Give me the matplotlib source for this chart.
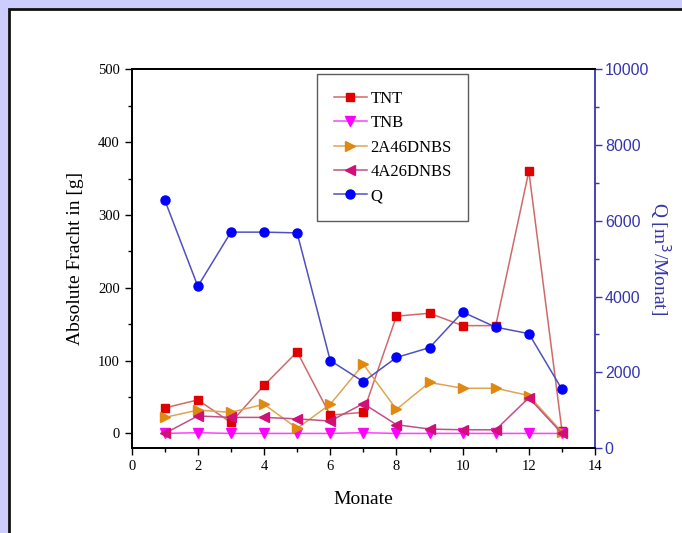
import matplotlib
matplotlib.use("Agg")
import matplotlib.pyplot as plt
from matplotlib.patches import Rectangle
from matplotlib.ticker import MultipleLocator

# Data
monate = [1, 2, 3, 4, 5, 6, 7, 8, 9, 10, 11, 12, 13]
tnt = [35, 46, 15, 66, 112, 25, 29, 161, 165, 148, 148, 360, 4]
tnb = [0, 1, 0, 0, 0, 0, 1, 0, 0, 0, 0, 0, 0]
dnbs_2a46 = [22, 32, 29, 40, 7, 40, 95, 33, 70, 62, 62, 52, 2]
dnbs_4a26 = [0, 24, 22, 22, 20, 17, 41, 12, 6, 5, 5, 49, 0]
q = [6550, 4270, 5700, 5700, 5680, 2310, 1750, 2390, 2650, 3590, 3190, 3020, 1550]

serif = "Liberation Serif"
sans = "Liberation Sans"
blue_txt = "#3535b0"

fig = plt.figure(figsize=(6.82, 5.33), dpi=100)
fig.patch.set_facecolor("#ccccff")

# white panel with dark border (top/left visible)
fig.patches.append(Rectangle((9 / 682, -0.1), 1.1, 1 - 9 / 533 + 0.1,
                             transform=fig.transFigure, facecolor="white",
                             edgecolor="#111111", linewidth=2.0, zorder=-10))

ax = fig.add_axes([0.193, 0.1595, 0.6795, 0.7105])
ax2 = ax.twinx()
ax.patch.set_alpha(0)
ax2.patch.set_alpha(0)

h1, = ax.plot(monate, tnt, color="#d06a6a", lw=1.1, marker="s", ms=5.5,
              mfc="#e00000", mec="#e00000", label="TNT")
h2, = ax.plot(monate, tnb, color="#ff40ff", lw=1.1, marker="v", ms=6.5,
              mfc="#ff00ff", mec="#ff00ff", label="TNB")
h3, = ax.plot(monate, dnbs_2a46, color="#e0a455", lw=1.1, marker=">", ms=6.5,
              mfc="#e0880f", mec="#e0880f", label="2A46DNBS")
h4, = ax.plot(monate, dnbs_4a26, color="#c0508a", lw=1.1, marker="<", ms=6.5,
              mfc="#d01078", mec="#d01078", label="4A26DNBS")
h5, = ax2.plot(monate, q, color="#5050c0", lw=1.1, marker="o", ms=6.5,
               mfc="#0000ff", mec="#0000ff", label="Q")

ax.set_xlim(0, 14)
ax.set_ylim(-20, 500)
ax2.set_ylim(0, 10000)

ax.xaxis.set_major_locator(MultipleLocator(2))
ax.xaxis.set_minor_locator(MultipleLocator(1))
ax.yaxis.set_major_locator(MultipleLocator(100))
ax.yaxis.set_minor_locator(MultipleLocator(50))
ax2.yaxis.set_major_locator(MultipleLocator(2000))
ax2.yaxis.set_minor_locator(MultipleLocator(1000))

ax.tick_params(which="major", direction="out", length=5, width=1,
               labelsize=10.5)
ax.tick_params(which="minor", direction="out", length=3, width=1)
ax2.tick_params(which="major", direction="out", length=5, width=1,
                colors="#3535b0", labelsize=11.5, pad=2)
ax2.tick_params(which="minor", direction="out", length=3, width=1,
                colors="#3535b0")
for lbl in ax.get_xticklabels() + ax.get_yticklabels():
    lbl.set_fontfamily(serif)
for lbl in ax2.get_yticklabels():
    lbl.set_fontfamily(sans)
    lbl.set_color(blue_txt)

for s in ["top", "bottom", "left"]:
    ax.spines[s].set_linewidth(1.3)
    ax2.spines[s].set_linewidth(1.3)
ax2.spines["right"].set_color("#3535b0")
ax2.spines["right"].set_linewidth(1.3)
ax.spines["right"].set_visible(False)

ax.set_xlabel("Monate", fontfamily=serif, fontsize=14, labelpad=13)
ax.set_ylabel("Absolute Fracht in [g]", fontfamily=serif, fontsize=14,
              labelpad=10)
ax2.set_ylabel("Q [m$^3$/Monat]", fontfamily=serif, fontsize=14,
               color=blue_txt, rotation=270, labelpad=17)

leg = ax2.legend(handles=[h1, h2, h3, h4, h5], loc="upper left",
                 bbox_to_anchor=(0.40, 0.987), borderaxespad=0,
                 frameon=True, fancybox=False,
                 edgecolor="#333333", prop={"family": serif, "size": 12},
                 handlelength=2.0, handletextpad=0.2, labelspacing=0.5,
                 borderpad=1.0)
leg.get_frame().set_linewidth(1.0)

fig.savefig("out.png", dpi=100, facecolor=fig.get_facecolor())
